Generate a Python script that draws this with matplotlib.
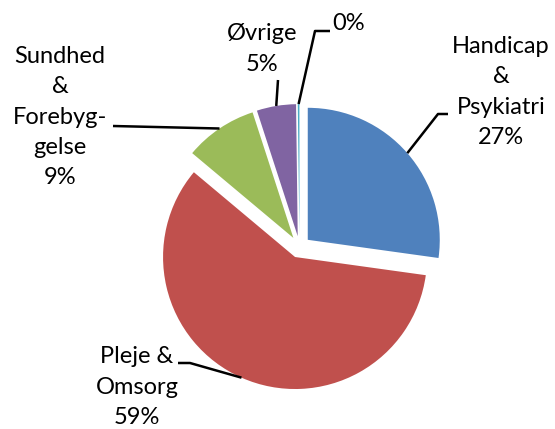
import numpy as np
import matplotlib
matplotlib.use("Agg")
import matplotlib.pyplot as plt

# ---- data ----
categories = ["Handicap\n&\nPsykiatri", "Pleje &\nOmsorg", "Sundhed\n&\nForebyg-\ngelse", "Øvrige", ""]
values = [27.2, 58.9, 8.9, 4.8, 0.2]
colors = ["#4F81BD", "#C0504D", "#9BBB59", "#8064A2", "#4BACC6"]

W, H = 555, 429
R_PX = 132.0          # pie radius in pixels
CX, CY = 299.5, 247.0 # pie centre in pixels
EXPLODE = 0.083

def px(x, y):
    return ((x - CX) / R_PX, (CY - y) / R_PX)

fig = plt.figure(figsize=(W / 100, H / 100), dpi=100)
ax = fig.add_axes([0, 0, 1, 1])
wedges, _ = ax.pie(values, colors=colors, startangle=90, counterclock=False,
                   explode=[EXPLODE] * len(values), radius=1.0,
                   wedgeprops=dict(linewidth=0))
x0, y1 = px(0, 0)
x1, y0 = px(W, H)
ax.set_xlim(x0, x1)
ax.set_ylim(y0, y1)
ax.set_aspect("auto")
ax.axis("off")

font = dict(family=["Lato", "DejaVu Sans"], fontsize=17, color="black",
            ha="center", va="center", linespacing=1.55)

# label layout (pixel positions of text centre and leader elbows)
layout = [
    dict(text=(501, 92), path=[(438, 114), (448, 114)]),
    dict(text=(137, 387), path=[(190, 363), (178, 363)]),
    dict(text=(60, 117), path=[(113, 126)]),
    dict(text=(262, 49), path=[(278, 80)]),
    dict(text=(349, 24), path=[(315, 31), (330, 31)]),
]

for w, cat, v, lay in zip(wedges, categories, values, layout):
    th = np.deg2rad((w.theta1 + w.theta2) / 2)
    start = ((1 + EXPLODE) * np.cos(th), (1 + EXPLODE) * np.sin(th))
    pts = [start] + [px(*p) for p in lay["path"]]
    xs, ys = zip(*pts)
    ax.plot(xs, ys, color="black", lw=1.8, solid_capstyle="butt")
    label = f"{cat}\n{round(v)}%" if cat else f"{round(v)}%"
    tx, ty = px(*lay["text"])
    ax.text(tx, ty, label, **font)

fig.savefig("out.png", dpi=100, facecolor="white")
